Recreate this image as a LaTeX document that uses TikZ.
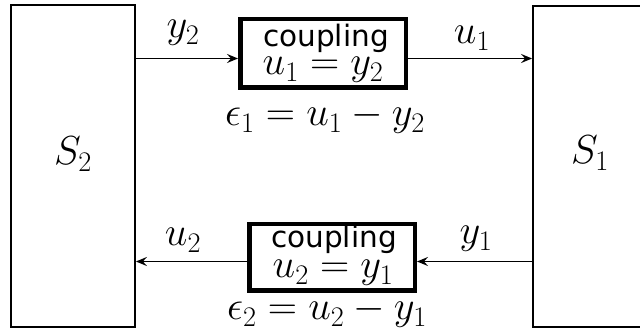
\RequirePackage{fix-cm}
\documentclass[tikz,border=0pt]{standalone}
\usepackage{fontspec}
\usetikzlibrary{arrows.meta}
\newfontfamily\cplfont{DejaVu Sans}

\begin{document}
\begin{tikzpicture}[x=1pt,y=-1pt,
	sysbox/.style={draw, line width=1.8pt, inner sep=0pt},
	cplbox/.style={draw, line width=4.5pt, inner sep=0pt, minimum width=165.5pt, minimum height=68.5pt},
	lbl/.style={anchor=base, inner sep=0pt, font=\fontsize{40.5}{48}\selectfont},
	cpltext/.style={anchor=base, inner sep=0pt, font=\cplfont\fontsize{29.5}{35}\selectfont},
	sig/.style={line width=1.8pt, -{Stealth[length=11pt,width=9pt,inset=4pt]}}]
	\useasboundingbox (0,0) rectangle (640,328);
	\clip (0,0) rectangle (640,328);
		% the two systems
		\node[sysbox, minimum width=124pt, minimum height=322pt] (S2) at (73,166) {};
		\node[sysbox, minimum width=114pt, minimum height=321pt] (S1) at (590,166.5) {};
		\node[lbl] (S2lbl) at (73,165) {$S_2$};
		\node[lbl] (S1lbl) at (590,164) {$S_1$};
		% couplings
		\node[cplbox] (cpl1) at (323,53.5) {};
		\node[cpltext] (cpl1a) at (326,47) {coupling};
		\node[lbl] (cpl1b) at (323,75) {$u_1 = y_2$};
		\node[lbl] (eps1) at (325,126) {$\epsilon_1 = u_1 - y_2$};
		\node[cplbox, minimum height=66.5pt] (cpl2) at (332,257.5) {};
		\node[cpltext] (cpl2a) at (334,248) {coupling};
		\node[lbl] (cpl2b) at (333,278) {$u_2 = y_1$};
		\node[lbl] (eps2) at (327,320) {$\epsilon_2 = u_2 - y_1$};
		% signals
		\coordinate (in1) at ([yshift=-5pt]cpl1.west);
		\coordinate (out1) at ([yshift=-5pt]cpl1.east);
		\coordinate (in2) at ([yshift=-4pt]cpl2.east);
		\coordinate (out2) at ([yshift=-4pt]cpl2.west);
			\draw[sig] (S2.east |- in1) -- (in1);
			\draw[sig] (out1) -- (S1.west |- out1);
			\draw[sig] (S1.west |- in2) -- (in2);
			\draw[sig] (out2) -- (S2.east |- out2);
				\node[lbl] (y2) at (183,38) {$y_2$};
				\node[lbl] (u1) at (472,44) {$u_1$};
				\node[lbl] (u2) at (183,246) {$u_2$};
				\node[lbl] (y1) at (476,244) {$y_1$};
\end{tikzpicture}
\end{document}
